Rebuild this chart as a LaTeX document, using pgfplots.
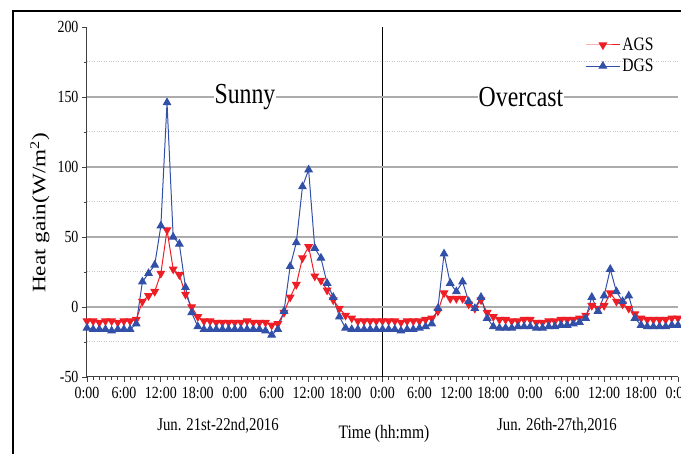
\documentclass[border=0pt]{standalone}
\usepackage{fontspec}
\setmainfont{Liberation Serif}[FakeStretch=0.82]
\newfontfamily\vfont{Liberation Serif}[FakeStretch=1.22]
\usepackage{pgfplots}
\usepackage{pgfplotstable}
\pgfplotsset{compat=1.18}

\definecolor{agsred}{RGB}{238,30,38}
\definecolor{dgsblue}{RGB}{50,80,168}

\pgfplotstableread{
h ags dgs
0 -10 -15
1 -10 -16
2 -11 -16
3 -10 -16
4 -10 -17
5 -11 -16
6 -10 -16
7 -10 -16
8 -9 -12
9 4 18
10 8 24
11 11 30
12 24 58
13 55 146
14 27 50
15 23 45
16 9 14
17 0 -4
18 -7 -14
19 -10 -16
20 -10 -16
21 -11 -16
22 -11 -16
23 -11 -16
24 -11 -16
25 -11 -16
26 -10 -16
27 -11 -16
28 -11 -16
29 -11 -17
30 -13 -20
31 -12 -16
32 -4 -3
33 7 29
34 16 46
35 35 86
36 43 98
37 22 42
38 19 35
39 12 17
40 5 7
41 -1 -7
42 -6 -15
43 -8 -16
44 -10 -16
45 -10 -16
46 -10 -16
47 -10 -16
48 -10 -16
49 -10 -16
50 -10 -16
51 -11 -17
52 -10 -16
53 -10 -16
54 -10 -15
55 -9 -14
56 -8 -12
57 -3 -1
58 10 38
59 6 17
60 6 11
61 6 18
62 2 4
63 -1 -1
64 5 7
65 -4 -8
66 -7 -14
67 -9 -15
68 -9 -15
69 -10 -15
70 -10 -14
71 -9 -14
72 -9 -14
73 -11 -15
74 -11 -15
75 -10 -14
76 -10 -14
77 -9 -13
78 -9 -13
79 -9 -12
80 -8 -11
81 -6 -8
82 1 7
83 -1 -3
84 1 8
85 10 27
86 4 11
87 2 4
88 -1 8
89 -5 -8
90 -8 -13
91 -9 -14
92 -9 -14
93 -9 -14
94 -9 -14
95 -8 -13
96 -8 -13
}\heatdata

\begin{document}
\begin{tikzpicture}
\begin{axis}[
    scale only axis,
    width=591pt, height=350pt,
    xmin=0, xmax=96, ymin=-50, ymax=200,
    axis x line*=bottom, axis y line*=left,
    axis line style={-, line width=1pt, black!75},
    tick align=outside,
    tick style={black!75, line width=0.8pt},
    major tick length=5pt, minor tick length=3pt,
    xtick={0,6,...,96},
    xticklabels={0:00,6:00,12:00,18:00,0:00,6:00,12:00,18:00,0:00,6:00,12:00,18:00,0:00,6:00,12:00,18:00,0:00},
    minor x tick num=5,
    ytick={-50,0,...,200},
    yticklabels={-50,0,50,100,150,200},
    minor y tick num=1,
    yminorgrids=true,
    minor grid style={gray!45, dotted, line width=1pt},
    ticklabel style={font=\fontsize{17}{18}\selectfont},
    xticklabel style={yshift=-2pt},
    extra y ticks={0,50,100,150},
    extra y tick labels={},
    extra y tick style={grid=major, major tick length=0pt, major grid style={gray!65, line width=1.1pt}},
    extra x ticks={48},
    extra x tick labels={},
    extra x tick style={grid=major, major tick length=0pt, major grid style={black, line width=1pt}},
    legend style={at={(rel axis cs:0.843,0.975)}, anchor=north west, draw=none, fill=none,
        font=\fontsize{19}{20}\selectfont, inner sep=0pt, row sep=3pt},
    legend cell align=left,
    legend image code/.code={\draw[mark repeat=2, mark phase=2] plot coordinates {(0pt,0pt) (17pt,0pt) (34pt,0pt)};},
]
\coordinate (ll) at (rel axis cs:0,0);
\addplot[agsred, line width=1pt, mark=triangle*, mark size=4.2pt, mark options={rotate=180, fill=agsred}] table[x=h, y=ags] {\heatdata};
\addlegendentry{AGS}
\addplot[dgsblue, line width=1pt, mark=triangle*, mark size=4.2pt, mark options={fill=dgsblue}] table[x=h, y=dgs] {\heatdata};
\addlegendentry{DGS}
\end{axis}

\node[fill=white, inner sep=1pt, font=\fontsize{29}{30}\selectfont] at ([shift={(158pt,280pt)}]ll) {Sunny};
\node[fill=white, inner sep=1pt, font=\fontsize{29}{30}\selectfont] at ([shift={(434pt,280pt)}]ll) {Overcast};
\node[font=\fontsize{18}{19}\selectfont] at ([shift={(131pt,-49pt)}]ll) {Jun. 21st-22nd,2016};
\node[font=\fontsize{18}{19}\selectfont] at ([shift={(470pt,-49pt)}]ll) {Jun. 26th-27th,2016};
\node[font=\fontsize{19}{20}\selectfont] at ([shift={(297pt,-57pt)}]ll) {Time (hh:mm)};
\node[rotate=90, font=\vfont\fontsize{19}{20}\selectfont] at ([shift={(-47pt,164pt)}]ll) {Heat gain(W/m\textsuperscript{2})};

\pgfresetboundingbox
\path[use as bounding box] ([shift={(-87pt,-77pt)}]ll) rectangle ++(681pt,454pt);
\draw[line width=2pt] ([shift={(-74pt,-80pt)}]ll) -- ([shift={(-74pt,366pt)}]ll) -- ([shift={(600pt,366pt)}]ll);
\end{tikzpicture}
\end{document}
